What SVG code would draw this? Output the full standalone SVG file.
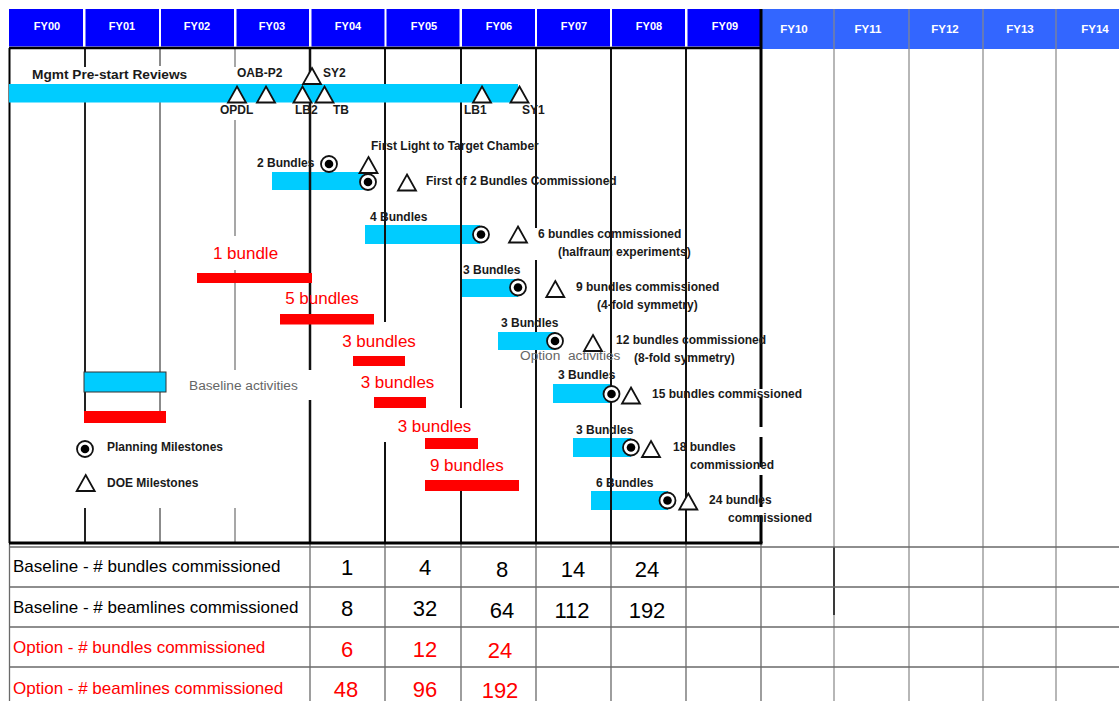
<svg xmlns="http://www.w3.org/2000/svg" xmlns:xlink="http://www.w3.org/1999/xlink" width="1119" height="701" viewBox="0 0 1119 701">
<style>
.hd{fill:#0000FF}
.hl{fill:#3366FF}
.ht{font-family:'Liberation Sans',Arial,sans-serif;font-weight:bold;font-size:11px;fill:#fff;text-anchor:middle}
.ht2{font-size:11.5px}
.cy{fill:#00CCFF}
.rd{fill:#FF0000}
.lb{font-family:'Liberation Sans',Arial,sans-serif;font-weight:bold;font-size:12px;fill:#1a1a1a}
.big{font-size:13.7px}
.rt{font-family:'Liberation Sans',Arial,sans-serif;font-size:17px;fill:#FF0000;text-anchor:middle}
.gt{font-family:'Liberation Sans',Arial,sans-serif;font-size:13.7px;fill:#666}
.tl{font-family:'Liberation Sans',Arial,sans-serif;font-size:17px;fill:#000}
.tn{font-family:'Liberation Sans',Arial,sans-serif;font-size:22px;fill:#000;text-anchor:middle}
.red{fill:#FF0000}
.tri{fill:#fff;stroke:#111;stroke-width:1.8;stroke-linejoin:miter}
.mo{fill:#fff;stroke:#111;stroke-width:1.8}
.mi{fill:#000}
.gk{stroke:#111;stroke-width:2;fill:none}
.gg{stroke:#666;stroke-width:1.5;fill:none}
.gl{stroke:#888;stroke-width:1.2;fill:none}
.tg{stroke:#6a6a6a;stroke-width:1.3;fill:none}
</style>
<defs>
<path id="tri" class="tri" d="M0,-8 L9,8 L-9,8 Z"/>
<g id="ms"><circle r="8" class="mo"/><circle r="4.3" class="mi"/></g>
</defs>
<rect x="0" y="0" width="1119" height="701" fill="#fff"/>

<g id="header">
<rect class="hd" x="9" y="9" width="74" height="37.5"/>
<rect class="hd" x="85.5" y="9" width="73.5" height="37.5"/>
<rect class="hd" x="161" y="9" width="73" height="37.5"/>
<rect class="hd" x="236.5" y="9" width="72.5" height="37.5"/>
<rect class="hd" x="311.5" y="9" width="73" height="37.5"/>
<rect class="hd" x="386.5" y="9" width="73" height="37.5"/>
<rect class="hd" x="462" y="9" width="73" height="37.5"/>
<rect class="hd" x="537" y="9" width="73" height="37.5"/>
<rect class="hd" x="612" y="9" width="73" height="37.5"/>
<rect class="hd" x="687.5" y="9" width="73" height="37.5"/>
<rect class="hl" x="761" y="9" width="358" height="40"/>
<text class="ht" x="47" y="30">FY00</text>
<text class="ht" x="122" y="30">FY01</text>
<text class="ht" x="197" y="30">FY02</text>
<text class="ht" x="272" y="30">FY03</text>
<text class="ht" x="348" y="30">FY04</text>
<text class="ht" x="424" y="30">FY05</text>
<text class="ht" x="499" y="30">FY06</text>
<text class="ht" x="574" y="30">FY07</text>
<text class="ht" x="649" y="30">FY08</text>
<text class="ht" x="725" y="30">FY09</text>
<text class="ht ht2" x="794" y="33">FY10</text>
<text class="ht ht2" x="868" y="33">FY11</text>
<text class="ht ht2" x="945" y="33">FY12</text>
<text class="ht ht2" x="1020" y="33">FY13</text>
<text class="ht ht2" x="1095" y="33">FY14</text>
</g>

<g id="baseline-bars">
<rect class="cy" x="272" y="172" width="94" height="18"/>
<rect class="cy" x="365" y="225" width="115" height="19"/>
<rect class="cy" x="461" y="279" width="57" height="18"/>
<rect class="cy" x="498" y="332" width="57" height="18"/>
<rect class="cy" x="553" y="384" width="58" height="19"/>
<rect class="cy" x="573" y="438" width="58" height="19"/>
<rect class="cy" x="591" y="491" width="77" height="19"/>
</g>

<g id="grid">
<path class="gl" d="M834,9V701M909,9V701M983,9V701M1056,9V701"/>
<path stroke="#111" stroke-width="1.5" d="M834,547V615"/>
<path class="tg" d="M9,547H1119M9,587H1119M9,627H1119M9,667H1119"/>
<path class="tg" d="M9.5,543V701M310,543V701M385,543V701M461,543V701M536,543V701M611,543V701M686,543V701M761,543V701"/>
<path stroke="#222" stroke-width="2" d="M85,48V67M85,102V423M85,508V543"/>
<path class="gg" d="M160,48V66M160,102V423M160,508V543"/>
<path stroke="#8a8a8a" stroke-width="1.5" d="M235,48V67M235,120V236M235,270V370M235,508V543"/>
<path stroke="#111" stroke-width="2.5" d="M310,48V370M310,400V543"/>
<path class="gk" d="M385,48V322M385,442V543"/>
<path class="gk" d="M461,48V408M461,490V543"/>
<path class="gk" d="M536,48V228M536,260V332M536,350V543"/>
<path class="gk" d="M611,48V543"/>
<path class="gk" d="M686,48V543"/>
<path stroke="#000" stroke-width="3" d="M761,9V389M761,397V427M761,437V467M761,475V507M761,515V543"/>
<path stroke="#000" stroke-width="2.5" d="M9,48H761"/>
<path stroke="#000" stroke-width="2" d="M9.5,48V543"/>
<path stroke="#000" stroke-width="3" d="M9,543H762.5"/>
</g>

<g id="mgmt-reviews">
<rect class="cy" x="9" y="84" width="509" height="18.5"/>
<use xlink:href="#tri" x="237" y="94.5"/>
<use xlink:href="#tri" x="266" y="94.5"/>
<use xlink:href="#tri" x="302.5" y="94.5"/>
<use xlink:href="#tri" x="324.5" y="94.5"/>
<use xlink:href="#tri" x="482" y="94.5"/>
<use xlink:href="#tri" x="519.5" y="94.5"/>
<use xlink:href="#tri" x="312" y="76"/>
<text class="lb big" x="32" y="79">Mgmt Pre-start Reviews</text>
<text class="lb" x="237" y="77">OAB-P2</text>
<text class="lb" x="323" y="77">SY2</text>
<text class="lb" x="220" y="114">OPDL</text>
<text class="lb" x="295" y="114">LB2</text>
<text class="lb" x="333" y="114">TB</text>
<text class="lb" x="464" y="114">LB1</text>
<text class="lb" x="522" y="114">SY1</text>
</g>

<g id="option-bars">
<rect class="rd" x="197" y="273" width="115" height="10"/>
<rect class="rd" x="280" y="314" width="94" height="10.5"/>
<rect class="rd" x="353" y="356" width="52" height="10"/>
<rect class="rd" x="374" y="397" width="52" height="11"/>
<rect class="rd" x="425" y="438" width="53" height="11"/>
<rect class="rd" x="425" y="480" width="94" height="11"/>
<text class="rt" x="245.5" y="259">1 bundle</text>
<text class="rt" x="322" y="304">5 bundles</text>
<text class="rt" x="379" y="347">3 bundles</text>
<text class="rt" x="397.5" y="388">3 bundles</text>
<text class="rt" x="434.5" y="431.5">3 bundles</text>
<text class="rt" x="466.8" y="471">9 bundles</text>
<text class="gt" x="520" y="359.5" xml:space="preserve">Option  activities</text>
</g>

<g id="step-2">
<use xlink:href="#ms" x="329" y="164"/>
<use xlink:href="#tri" x="368.5" y="165"/>
<use xlink:href="#ms" x="368" y="182"/>
<use xlink:href="#tri" x="407" y="182.5"/>
<text class="lb" x="257" y="167">2 Bundles</text>
<text class="lb" x="371" y="150">First Light to Target Chamber</text>
<text class="lb" x="426" y="185">First of 2 Bundles Commissioned</text>
</g>

<g id="step-4">
<use xlink:href="#ms" x="481" y="234.5"/>
<use xlink:href="#tri" x="518" y="234.5"/>
<text class="lb" x="370" y="221">4 Bundles</text>
<text class="lb" x="538" y="238">6 bundles commissioned</text>
<text class="lb" x="558" y="256">(halfraum experiments)</text>
</g>

<g id="step-9">
<use xlink:href="#ms" x="518" y="287.5"/>
<use xlink:href="#tri" x="555.3" y="289"/>
<text class="lb" x="463" y="274">3 Bundles</text>
<text class="lb" x="576" y="291">9 bundles commissioned</text>
<text class="lb" x="597" y="308.5">(4-fold symmetry)</text>
</g>

<g id="step-12">
<use xlink:href="#ms" x="555" y="341"/>
<use xlink:href="#tri" x="593" y="343"/>
<text class="lb" x="501" y="327">3 Bundles</text>
<text class="lb" x="616" y="344">12 bundles commissioned</text>
<text class="lb" x="634" y="362">(8-fold symmetry)</text>
</g>

<g id="step-15">
<use xlink:href="#ms" x="611.5" y="394"/>
<use xlink:href="#tri" x="631" y="395.5"/>
<text class="lb" x="558" y="379">3 Bundles</text>
<text class="lb" x="652" y="397.5">15 bundles commissioned</text>
</g>

<g id="step-18">
<use xlink:href="#ms" x="631" y="447.5"/>
<use xlink:href="#tri" x="651" y="449"/>
<text class="lb" x="576" y="433.5">3 Bundles</text>
<text class="lb" x="673" y="451">18 bundles</text>
<text class="lb" x="690" y="468.5">commissioned</text>
</g>

<g id="step-24">
<use xlink:href="#ms" x="667.5" y="500.5"/>
<use xlink:href="#tri" x="688.3" y="501.5"/>
<text class="lb" x="596" y="487">6 Bundles</text>
<text class="lb" x="709" y="504">24 bundles</text>
<text class="lb" x="728" y="522">commissioned</text>
</g>

<g id="legend">
<rect class="cy" x="84" y="372" width="82" height="20" stroke="#333" stroke-width="1"/>
<text class="gt" x="189" y="389.5">Baseline activities</text>
<rect class="rd" x="84" y="411" width="82" height="12"/>
<use xlink:href="#ms" x="85" y="449"/>
<text class="lb" x="107" y="451">Planning Milestones</text>
<use xlink:href="#tri" x="85.7" y="483"/>
<text class="lb" x="107" y="487">DOE Milestones</text>
</g>

<g id="table">
<text class="tl" x="13" y="572">Baseline - # bundles commissioned</text>
<text class="tl" x="13" y="613">Baseline - # beamlines commissioned</text>
<text class="tl red" x="13" y="653">Option - # bundles commissioned</text>
<text class="tl red" x="13" y="694">Option - # beamlines commissioned</text>
<text class="tn" x="347" y="575">1</text>
<text class="tn" x="425" y="575">4</text>
<text class="tn" x="502" y="577">8</text>
<text class="tn" x="573" y="577">14</text>
<text class="tn" x="647" y="577">24</text>
<text class="tn" x="347" y="616">8</text>
<text class="tn" x="425" y="616">32</text>
<text class="tn" x="502" y="618">64</text>
<text class="tn" x="572" y="618">112</text>
<text class="tn" x="647" y="618">192</text>
<text class="tn red" x="347" y="657">6</text>
<text class="tn red" x="425" y="657">12</text>
<text class="tn red" x="500" y="658">24</text>
<text class="tn red" x="346" y="697">48</text>
<text class="tn red" x="425" y="697">96</text>
<text class="tn red" x="500" y="697.5">192</text>
</g>
</svg>
